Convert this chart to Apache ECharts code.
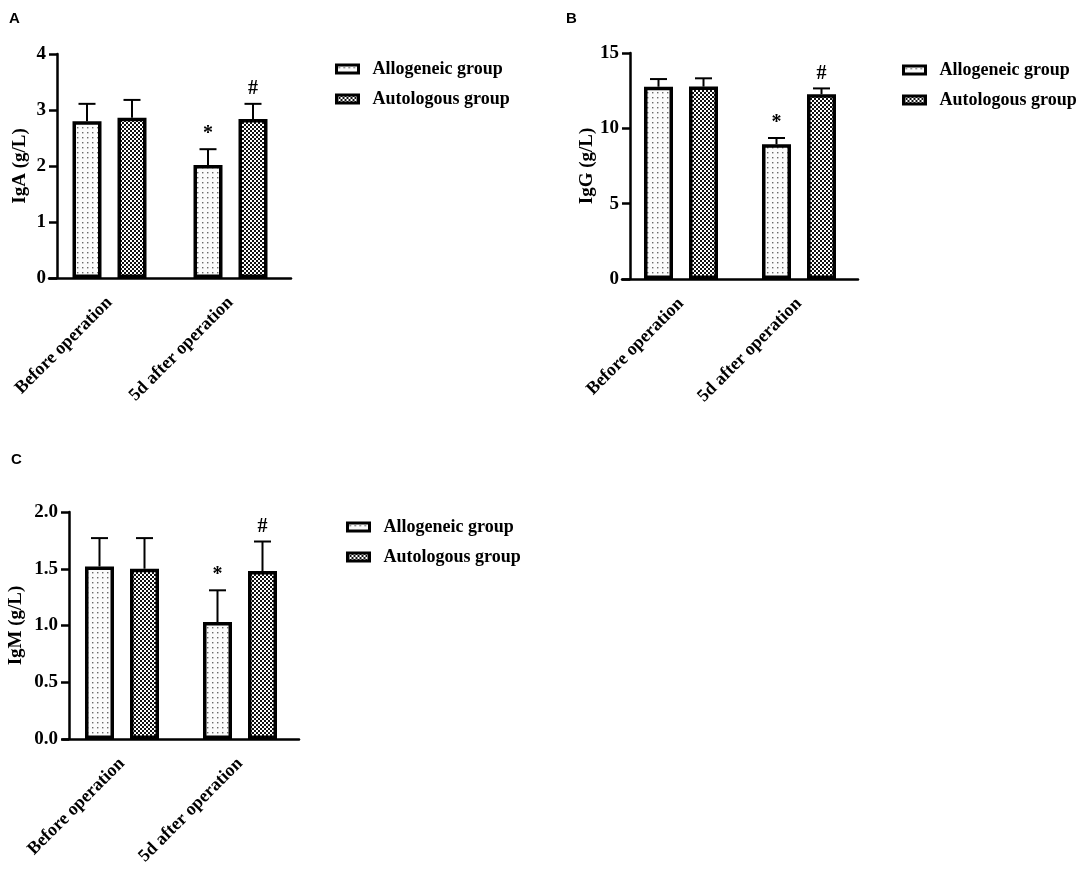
<!DOCTYPE html>
<html>
<head>
<meta charset="utf-8">
<title>IgA / IgG / IgM</title>
<script src="https://cdn.jsdelivr.net/npm/echarts@6.0.0/dist/echarts.min.js"></script>
<style>
  html, body { margin: 0; padding: 0; background: #fff; }
  #main { width: 1084px; height: 874px; }
</style>
</head>
<body>
<div id="main"></div>
<script>
// data
var categories = ['Before operation', '5d after operation'];
var groupNames = ['Allogeneic group', 'Autologous group'];

var igaAllo = [2.80, 2.02];
var igaAlloSd = [0.31, 0.28];
var igaAuto = [2.86, 2.84];
var igaAutoSd = [0.32, 0.27];

var iggAllo = [12.76, 8.94];
var iggAlloSd = [0.51, 0.42];
var iggAuto = [12.77, 12.26];
var iggAutoSd = [0.55, 0.39];

var igmAllo = [1.52, 1.03];
var igmAlloSd = [0.25, 0.28];
var igmAuto = [1.50, 1.48];
var igmAutoSd = [0.27, 0.26];

var marksAllo = ['', '*'];
var marksAuto = ['', '#'];

var igaTicks = [0, 4, 1];
var iggTicks = [0, 15, 5];
var igmTicks = [0, 2, 0.5];

// patterns
function makePattern(kind) {
    var c = document.createElement('canvas');
    var ctx = c.getContext('2d');
    if (kind === 'dots') {
        c.width = 5; c.height = 5;
        ctx.fillStyle = '#fbfbfb';
        ctx.fillRect(0, 0, 5, 5);
        ctx.fillStyle = '#6a6a6a';
        ctx.fillRect(2, 2, 1.4, 1.4);
    } else {
        c.width = 4; c.height = 4;
        ctx.fillStyle = '#ffffff';
        ctx.fillRect(0, 0, 4, 4);
        ctx.fillStyle = '#111111';
        ctx.fillRect(0, 0, 2, 2);
        ctx.fillRect(2, 2, 2, 2);
    }
    return { image: c, repeat: 'repeat' };
}
var dotFill = makePattern('dots');
var checkFill = makePattern('check');

var SERIF = '"Liberation Serif", "Times New Roman", serif';
var BAR_W = 29;
var BAR_GAP = 16;
var CAP = 17;
var half = (BAR_W + BAR_GAP) / 2;

var panels = [
    { name: 'IgA (g/L)', left: 49, top: 54, width: 242, height: 224, yOff: -8, nameGap: 27,
      ticks: igaTicks, dec: 0, allo: igaAllo, alloSd: igaAlloSd, auto: igaAuto, autoSd: igaAutoSd,
      legendLeft: 335, legendTop: 59 },
    { name: 'IgG (g/L)', left: 622, top: 53, width: 236, height: 226, yOff: -8, nameGap: 33,
      ticks: iggTicks, dec: 0, allo: iggAllo, alloSd: iggAlloSd, auto: iggAuto, autoSd: iggAutoSd,
      legendLeft: 902, legendTop: 60 },
    { name: 'IgM (g/L)', left: 63, top: 512, width: 236, height: 227, yOff: -6, nameGap: 43,
      ticks: igmTicks, dec: 1, allo: igmAllo, alloSd: igmAlloSd, auto: igmAuto, autoSd: igmAutoSd,
      legendLeft: 346, legendTop: 517 }
];

function errSeries(i, means, sds, marks, offset) {
    return {
        type: 'custom',
        name: 'err' + i + offset,
        xAxisIndex: i,
        yAxisIndex: i,
        z: 5,
        silent: true,
        data: means.map(function (m, k) { return [k, m, sds[k]]; }),
        encode: { x: 0, y: 1 },
        renderItem: function (params, api) {
            var idx = api.value(0);
            var mean = api.value(1);
            var sd = api.value(2);
            var base = api.coord([idx, mean]);
            var top = api.coord([idx, mean + sd]);
            var x = base[0] + offset;
            var lineStyle = { stroke: '#000', lineWidth: 2 };
            var children = [
                { type: 'line', shape: { x1: x, y1: base[1], x2: x, y2: top[1] }, style: lineStyle },
                { type: 'line', shape: { x1: x - CAP / 2, y1: top[1], x2: x + CAP / 2, y2: top[1] }, style: lineStyle }
            ];
            var mk = marks[params.dataIndex];
            if (mk) {
                children.push({
                    type: 'text', x: x, y: top[1] - 5,
                    style: { text: mk, align: 'center', verticalAlign: 'bottom',
                             font: 'bold 20px ' + SERIF, fill: '#000' }
                });
            }
            return { type: 'group', children: children };
        }
    };
}

var grids = [], xAxes = [], yAxes = [], series = [], legends = [];
panels.forEach(function (p, i) {
    grids.push({ left: p.left, top: p.top, width: p.width, height: p.height });
    xAxes.push({
        type: 'category', gridIndex: i, data: categories,
        axisLine: { lineStyle: { color: '#000', width: 2.5 } },
        axisTick: { alignWithLabel: true, length: 9, lineStyle: { color: '#000', width: 2.5 } },
        axisLabel: { rotate: 45, margin: 22, color: '#000', fontFamily: SERIF, fontWeight: 'bold', fontSize: 18 }
    });
    yAxes.push({
        type: 'value', gridIndex: i, offset: p.yOff,
        min: p.ticks[0], max: p.ticks[1], interval: p.ticks[2],
        name: p.name, nameLocation: 'middle', nameGap: p.nameGap,
        nameTextStyle: { color: '#000', fontFamily: SERIF, fontWeight: 'bold', fontSize: 19 },
        axisLine: { show: true, lineStyle: { color: '#000', width: 2.5 } },
        axisTick: { show: true, length: 8, lineStyle: { color: '#000', width: 2.5 } },
        splitLine: { show: false },
        axisLabel: {
            margin: 11, color: '#000', fontFamily: SERIF, fontWeight: 'bold', fontSize: 19,
            formatter: function (v) { return v.toFixed(p.dec); }
        }
    });
    series.push({
        type: 'bar', name: groupNames[0], xAxisIndex: i, yAxisIndex: i,
        data: p.allo, barWidth: BAR_W, barGap: (BAR_GAP / BAR_W * 100) + '%',
        itemStyle: { color: dotFill, borderColor: '#000', borderWidth: 3.5 },
        emphasis: { disabled: true }
    });
    series.push({
        type: 'bar', name: groupNames[1], xAxisIndex: i, yAxisIndex: i,
        data: p.auto, barWidth: BAR_W, barGap: (BAR_GAP / BAR_W * 100) + '%',
        itemStyle: { color: checkFill, borderColor: '#000', borderWidth: 3.5 },
        emphasis: { disabled: true }
    });
    series.push(errSeries(i, p.allo, p.alloSd, marksAllo, -half));
    series.push(errSeries(i, p.auto, p.autoSd, marksAuto, half));
    legends.push({
        orient: 'vertical', left: p.legendLeft, top: p.legendTop, padding: 0,
        data: groupNames, icon: 'rect', itemWidth: 22, itemHeight: 8, itemGap: 10,
        selectedMode: false,
        itemStyle: { borderColor: '#000', borderWidth: 3 },
        textStyle: { color: '#000', fontFamily: SERIF, fontWeight: 'bold', fontSize: 18,
                     lineHeight: 20, padding: [0, 0, 0, 9] }
    });
});

var chart = echarts.init(document.getElementById('main'));
chart.setOption({
    backgroundColor: '#fff',
    animation: false,
    grid: grids,
    xAxis: xAxes,
    yAxis: yAxes,
    legend: legends,
    series: series,
    graphic: [
        { type: 'text', left: 9, top: 11, style: { text: 'A', font: 'bold 15px "Liberation Sans", Arial, sans-serif', fill: '#000' } },
        { type: 'text', left: 566, top: 11, style: { text: 'B', font: 'bold 15px "Liberation Sans", Arial, sans-serif', fill: '#000' } },
        { type: 'text', left: 11, top: 452, style: { text: 'C', font: 'bold 15px "Liberation Sans", Arial, sans-serif', fill: '#000' } }
    ]
});
</script>
</body>
</html>
